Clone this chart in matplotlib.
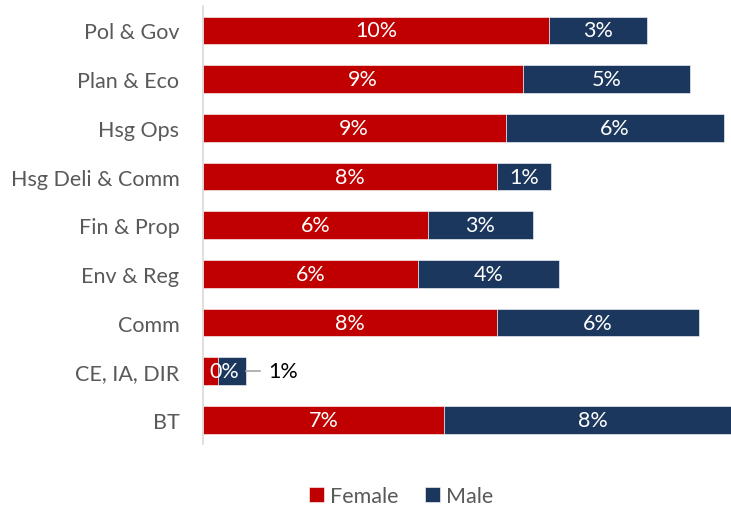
import matplotlib.pyplot as plt
import numpy as np

plt.rcParams['font.family'] = ['Lato', 'DejaVu Sans']

categories = ["Pol & Gov", "Plan & Eco", "Hsg Ops", "Hsg Deli & Comm", "Fin & Prop",
              "Env & Reg", "Comm", "CE, IA, DIR", "BT"]
female = [9.58, 8.87, 8.38, 8.14, 6.22, 5.96, 8.14, 0.42, 6.68]
male = [2.71, 4.62, 6.06, 1.49, 2.93, 3.91, 5.60, 0.76, 8.23]
# data labels as printed on the chart
female_labels = ["10%", "9%", "9%", "8%", "6%", "6%", "8%", "0%", "7%"]
male_labels = ["3%", "5%", "6%", "1%", "3%", "4%", "6%", "1%", "8%"]

RED = "#C00000"
NAVY = "#1B375E"
GREY = "#595959"
FS = 15.5

fig = plt.figure(figsize=(7.31, 5.06), dpi=100)
ax = fig.add_axes([203 / 731, 0.1201, 528 / 731, 0.8658])

y = np.arange(len(categories))
f = np.array(female)
m = np.array(male)

ax.barh(y, f, height=0.565, color=RED, edgecolor="white", linewidth=0.4, label="Female")
ax.barh(y, m, left=f, height=0.565, color=NAVY, edgecolor="white", linewidth=0.4, label="Male")

for i in range(len(categories)):
    if categories[i] == "CE, IA, DIR":
        # small bar: one label centred over the whole bar, the other outside with a leader
        ax.text((f[i] + m[i]) / 2, y[i], female_labels[i], color="white", fontsize=FS,
                ha="center", va="center")
        end = f[i] + m[i]
        ax.plot([end, end + 0.4], [y[i], y[i]], color="#A6A6A6", lw=1.2)
        ax.text(end + 0.62, y[i], male_labels[i], color="black", fontsize=FS,
                ha="left", va="center")
        continue
    ax.text(f[i] / 2, y[i], female_labels[i], color="white", fontsize=FS,
            ha="center", va="center")
    ax.text(f[i] + m[i] / 2, y[i], male_labels[i], color="white", fontsize=FS,
            ha="center", va="center")

ax.set_xlim(0, 528 / 36.1)
ax.set_ylim(len(categories) - 0.5, -0.5)
ax.set_yticks(y)
ax.set_yticklabels(categories, color=GREY, fontsize=FS)
ax.set_xticks([])
ax.tick_params(axis="y", length=0, pad=17)
for side in ["top", "right", "bottom"]:
    ax.spines[side].set_visible(False)
ax.spines["left"].set_color("#D9D9D9")
ax.spines["left"].set_linewidth(1.2)

leg = fig.legend(loc="center", bbox_to_anchor=(401 / 731, 1 - 497 / 506), ncol=2,
                 frameon=False, fontsize=FS, handlelength=0.7, handleheight=0.7,
                 handletextpad=0.3, columnspacing=1.2)
for t in leg.get_texts():
    t.set_color(GREY)

fig.savefig("out.png", dpi=100)
